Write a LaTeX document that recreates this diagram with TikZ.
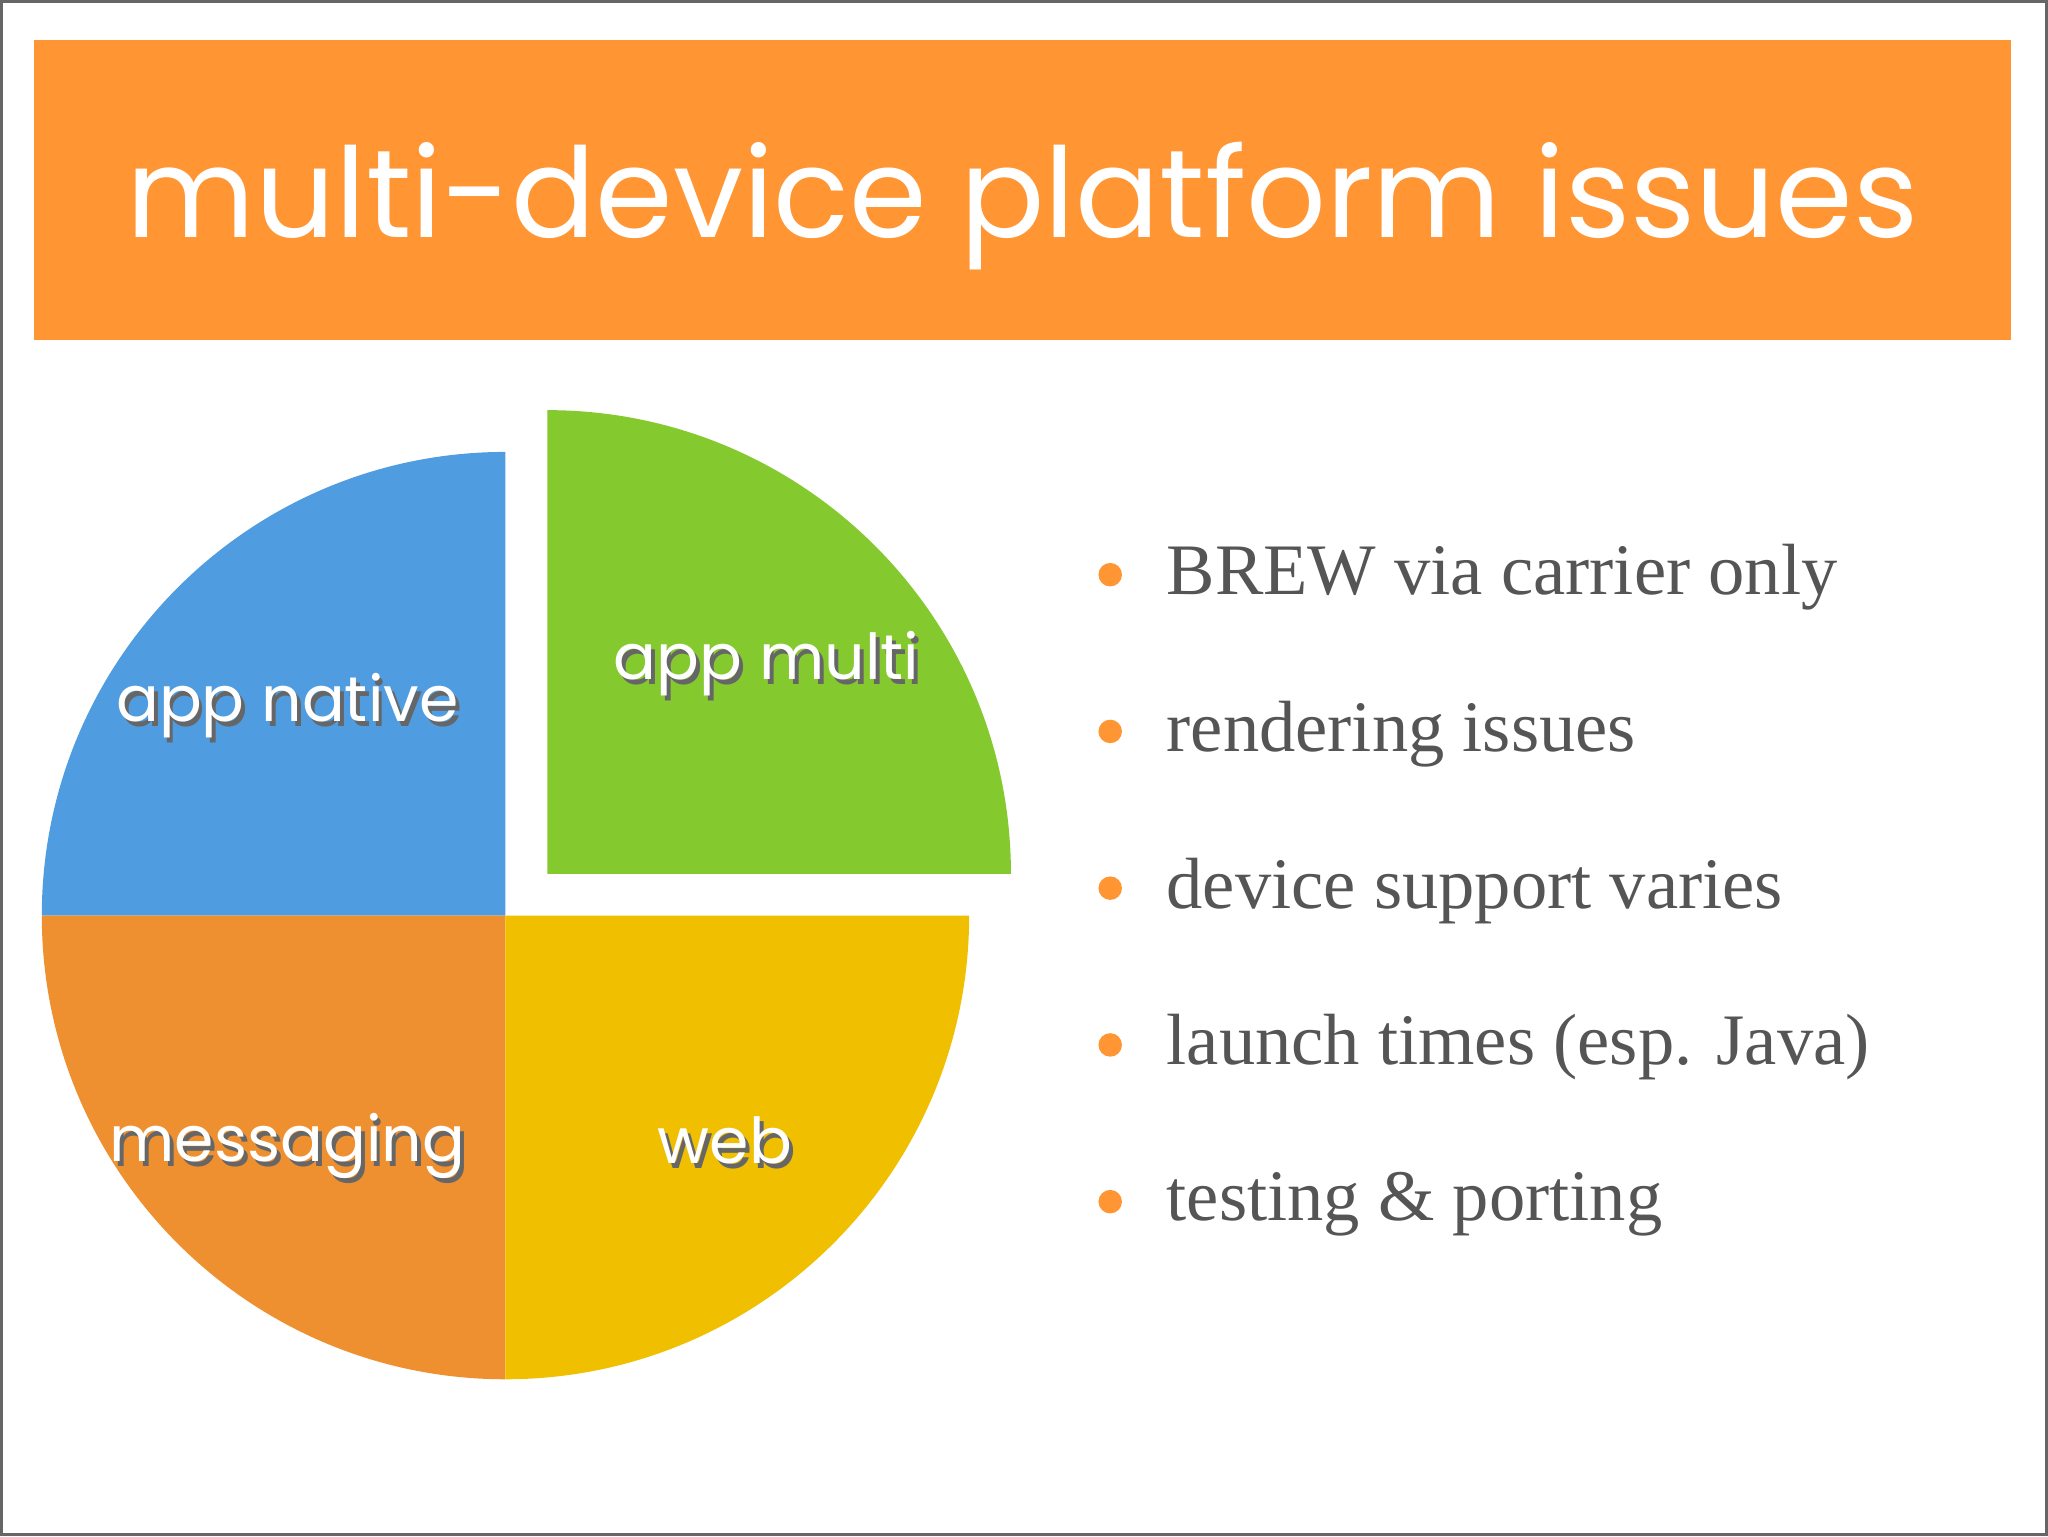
\documentclass[tikz,border=0pt]{standalone}
\usepackage{fontspec}
\setmainfont{Liberation Serif}
\newfontfamily\tfont{Poppins}
\definecolor{hdr}{HTML}{FF9533}
\definecolor{cblue}{HTML}{4F9DE0}
\definecolor{cgreen}{HTML}{84C92E}
\definecolor{corange}{HTML}{EF9030}
\definecolor{cyellow}{HTML}{EFBF00}
\definecolor{gtxt}{HTML}{555555}
\begin{document}
\begin{tikzpicture}[x=1mm,y=-1mm,
  lbl/.style={text=white,font=\tfont\fontsize{138}{150}\selectfont},
  shd/.style={text=black!60,font=\tfont\fontsize{138}{150}\selectfont},
  btxt/.style={anchor=west,text=gtxt,font=\fontsize{158}{170}\selectfont},
  dot/.style={circle,fill=hdr,inner sep=0pt,minimum size=18mm}]
\useasboundingbox (0,0) rectangle (1568,1176);
\draw[black!60,line width=2mm] (1,1) rectangle (1567,1175);
\fill[hdr] (26,31) rectangle (1540,260);
\node[text=white,font=\tfont\fontsize{272}{280}\selectfont] (title) at (783,158) {multi-device platform issues};
% pie
\fill[cblue] (387,701) -- (32,701) arc[start angle=180,end angle=90,radius=355mm] -- cycle;
\fill[corange] (387,701) -- (387,1056) arc[start angle=270,end angle=180,radius=355mm] -- cycle;
\fill[cyellow] (387,701) -- (742,701) arc[start angle=0,end angle=-90,radius=355mm] -- cycle;
\fill[cgreen] (419,669) -- (419,314) arc[start angle=90,end angle=0,radius=355mm] -- cycle;
\foreach \n/\x/\y/\t in {a/220/540/app native,b/587/508/app multi,c/220/877/messaging,d/555/873/web}{
  \node[shd] (s\n) at (\x+3,\y+4) {\t};
  \node[lbl] (l\n) at (\x,\y) {\t};
}
\foreach \i/\y/\t in {1/440/BREW via carrier only,2/560/rendering issues,3/680/device support varies,4/800/launch times (esp. Java),5/920/testing \& porting}{
  \node[dot] (d\i) at (850,\y) {};
  \node[btxt] (t\i) at (892,\y+2) {\t};
}
\end{tikzpicture}
\end{document}
